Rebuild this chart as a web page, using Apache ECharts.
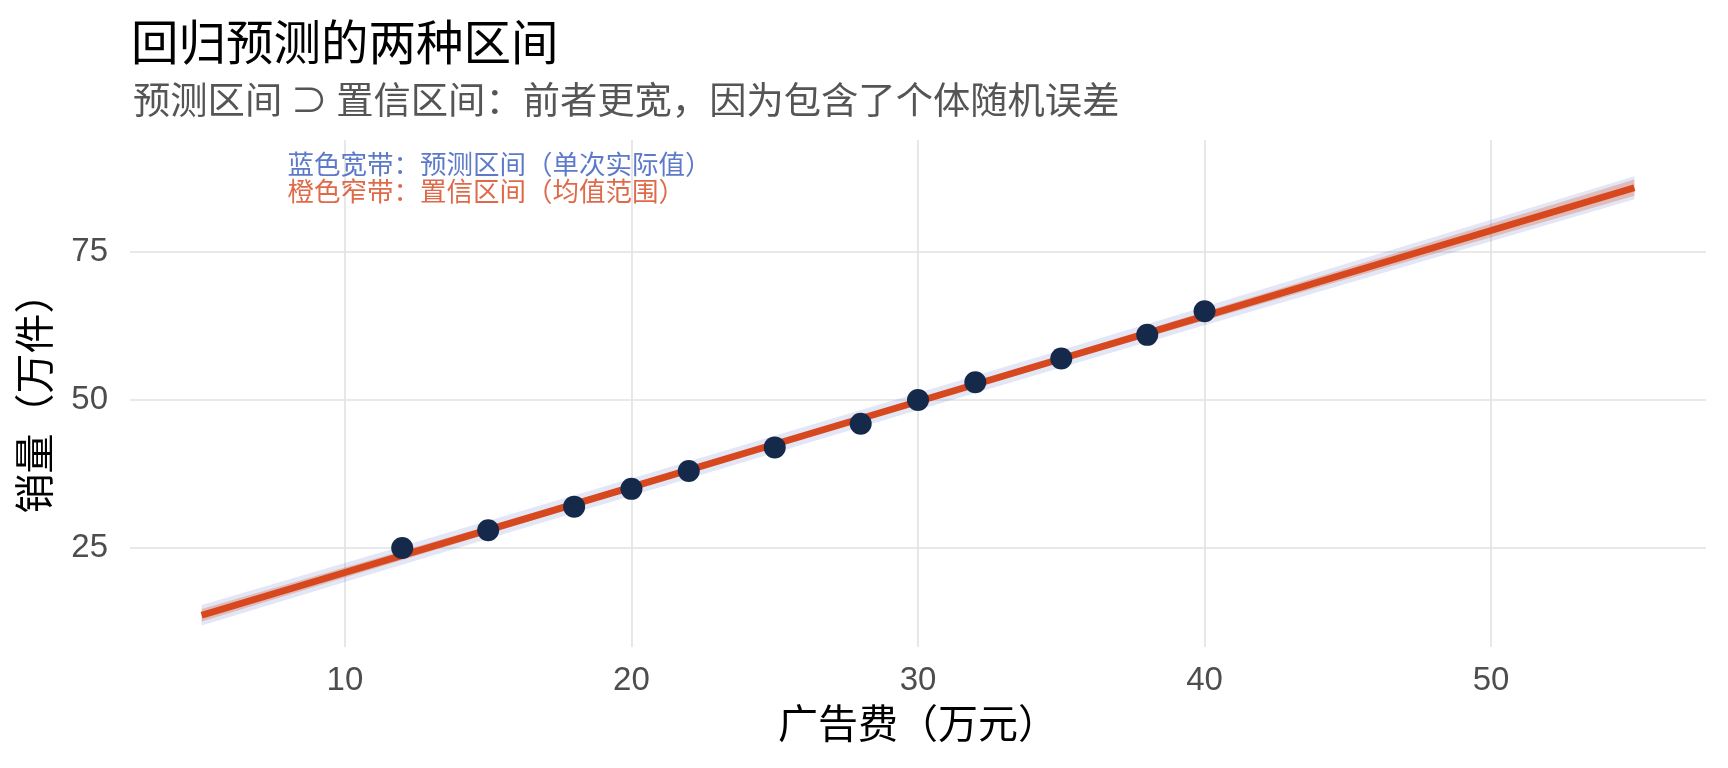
<!DOCTYPE html>
<html>
<head>
<meta charset="utf-8">
<title>回归预测的两种区间</title>
<script src="https://cdn.jsdelivr.net/npm/echarts@6/dist/echarts.min.js"></script>
<style>
  html, body { margin: 0; padding: 0; background: #fff; }
  #main { width: 1728px; height: 768px; }
</style>
</head>
<body>
<div id="main"></div>
<script>
// 观测点：广告费（万元） / 销量（万件）
var adX = [12, 15, 18, 20, 22, 25, 28, 30, 32, 35, 38, 40];
var salesY = [25, 28, 32, 35, 38, 42, 46, 50, 53, 57, 61, 65];

// 拟合线与两种区间
var bandX = [5, 10, 15, 20, 25, 30, 35, 40, 45, 50, 55];
var fitY = [13.66, 20.88, 28.09, 35.31, 42.53, 49.75, 56.97, 64.18, 71.40, 78.62, 85.84];
var piLow = [11.93, 19.26, 26.57, 33.85, 41.09, 48.30, 55.48, 62.61, 69.73, 76.82, 83.89];
var piHigh = [15.39, 22.50, 29.61, 36.77, 43.97, 51.20, 58.46, 65.75, 73.07, 80.42, 87.79];
var ciLow = [12.61, 20.04, 27.44, 34.82, 42.13, 49.32, 56.41, 63.44, 70.46, 77.46, 84.47];
var ciHigh = [14.71, 21.72, 28.74, 35.80, 42.93, 50.18, 57.53, 64.92, 72.34, 79.78, 87.21];

// 刻度
var xTicks = [10, 20, 30, 40, 50];
var yTicks = [25, 50, 75];

// 图中注释
var notes = [
  { text: '蓝色宽带：预测区间（单次实际值）', x: 8, y: 89.9, color: '#3558bb' },
  { text: '橙色窄带：置信区间（均值范围）', x: 8, y: 85.3, color: '#d6451d' }
];

function pairs(xs, ys) {
  return xs.map(function (x, i) { return [x, ys[i]]; });
}

// 区间带：上沿正序 + 下沿倒序，围成多边形
function bandSeries(lo, hi, fill, z) {
  return {
    type: 'custom', silent: true, z: z,
    data: [0],
    clip: true,
    renderItem: function (params, api) {
      var pts = [];
      for (var i = 0; i < bandX.length; i++) pts.push(api.coord([bandX[i], hi[i]]));
      for (var j = bandX.length - 1; j >= 0; j--) pts.push(api.coord([bandX[j], lo[j]]));
      return { type: 'polygon', shape: { points: pts }, style: { fill: fill } };
    }
  };
}

var cjk = 'Noto Sans CJK SC';
var myChart = echarts.init(document.getElementById('main'));

var option = {
  animation: false,
  backgroundColor: '#fff',
  title: [
    {
      text: '回归预测的两种区间',
      left: 126, top: 12,
      textStyle: { fontFamily: cjk, fontSize: 47.5, fontWeight: 'normal', color: '#000', lineHeight: 50 }
    },
    {
      text: '预测区间 ⊃ 置信区间：前者更宽，因为包含了个体随机误差',
      left: 128, top: 75,
      textStyle: { fontFamily: cjk, fontSize: 37.3, fontWeight: 'normal', color: '#555', lineHeight: 40 }
    }
  ],
  grid: { left: 130, right: 22, top: 140, bottom: 121, containLabel: false },
  xAxis: {
    type: 'value',
    min: 2.5, max: 57.5,
    name: '广告费（万元）',
    nameLocation: 'middle',
    nameGap: 56,
    nameTextStyle: { fontFamily: cjk, fontSize: 40, color: '#000' },
    axisLine: { show: false },
    axisTick: { show: false, customValues: xTicks },
    axisLabel: {
      customValues: xTicks, margin: 17,
      fontFamily: 'Liberation Sans, ' + cjk, fontSize: 33, color: '#4d4d4d'
    },
    splitLine: { show: true, lineStyle: { color: '#e2e2e2', width: 1.6 } }
  },
  yAxis: {
    type: 'value',
    min: 8.3, max: 93.9,
    name: '销量（万件）',
    nameLocation: 'middle',
    nameGap: 76,
    nameTextStyle: { fontFamily: cjk, fontSize: 40, color: '#000' },
    axisLine: { show: false },
    axisTick: { show: false, customValues: yTicks },
    axisLabel: {
      customValues: yTicks, margin: 22,
      fontFamily: 'Liberation Sans, ' + cjk, fontSize: 33, color: '#4d4d4d'
    },
    splitLine: { show: true, lineStyle: { color: '#e2e2e2', width: 1.6 } }
  },
  series: [
    // 预测区间（蓝色宽带）
    bandSeries(piLow, piHigh, 'rgba(60, 90, 190, 0.15)', 1),
    // 置信区间（橙色窄带）
    bandSeries(ciLow, ciHigh, 'rgba(216, 74, 31, 0.28)', 2),
    // 拟合线
    {
      type: 'line', data: pairs(bandX, fitY), z: 3,
      symbol: 'none', lineStyle: { color: '#d8481f', width: 7, cap: 'butt' }
    },
    // 观测点
    {
      type: 'scatter', data: pairs(adX, salesY), z: 4,
      symbolSize: 22, itemStyle: { color: '#152a4b', opacity: 1 }
    },
    // 注释文字
    {
      type: 'scatter', symbolSize: 0, silent: true, z: 5,
      data: notes.map(function (n) {
        return {
          value: [n.x, n.y],
          label: {
            show: true, position: 'right', distance: 0, formatter: n.text,
            fontFamily: cjk, fontSize: 26.5, color: n.color
          }
        };
      })
    }
  ]
};

myChart.setOption(option);
</script>
</body>
</html>
